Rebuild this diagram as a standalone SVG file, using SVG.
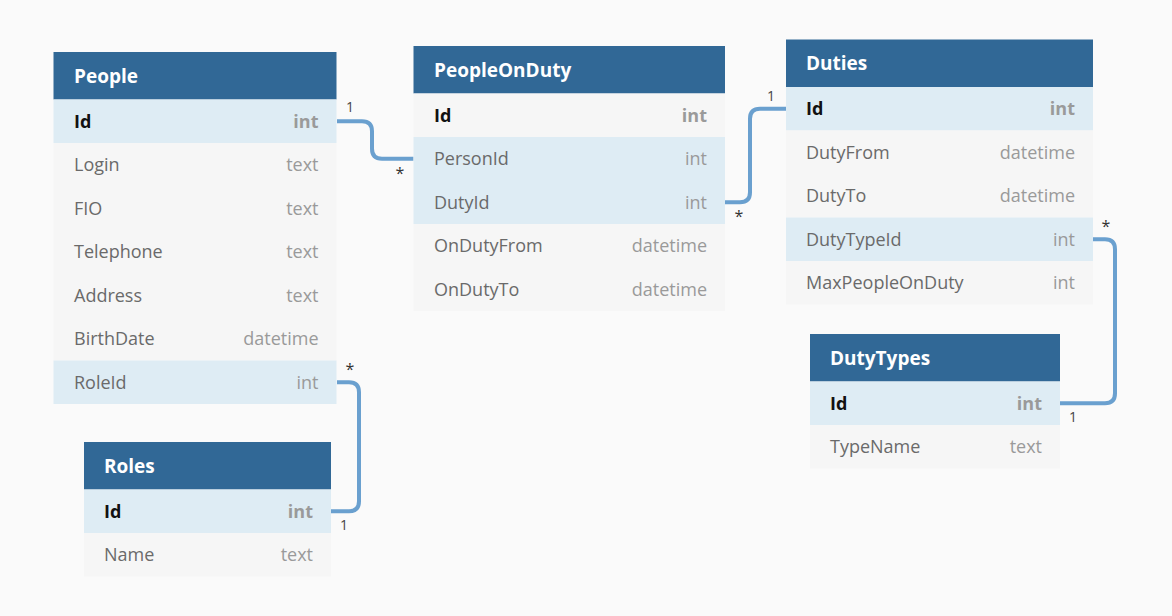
<svg xmlns="http://www.w3.org/2000/svg" width="1172" height="616" viewBox="0 0 1172 616">
<style>
.bg{fill:#fafafa}
.hd{fill:#316896}
.rw{fill:#f6f6f6}
.hl{fill:#deecf4}
.ht{font-family:"Open Sans","Noto Sans",sans-serif;font-size:19px;font-weight:700;fill:#ffffff}
.fn{font-family:"Open Sans","Noto Sans",sans-serif;font-size:18px;fill:#6a6a6a}
.ft{font-family:"Open Sans","Noto Sans",sans-serif;font-size:18px;fill:#9a9a9a;text-anchor:end}
.pk{font-weight:700;fill:#111111}
.pt{font-weight:700}
.cn{fill:none;stroke:#6aa0cf;stroke-width:4;stroke-linecap:butt}
.lb{font-family:"Open Sans","Noto Sans",sans-serif;font-size:14px;fill:#444444;text-anchor:middle}
.st{font-family:"Open Sans","Noto Sans",sans-serif;font-size:16px;fill:#333333;text-anchor:middle}
</style>
<rect class="bg" x="0" y="0" width="1172" height="616"/>
<g id="connectors">
<path class="cn" d="M337 121.25 H362 Q372 121.25 372 131.25 V148.75 Q372 158.75 382 158.75 H413.5"/>
<path class="cn" d="M725 202.25 H740 Q750 202.25 750 192.25 V118.75 Q750 108.75 760 108.75 H786"/>
<path class="cn" d="M1093 239.25 H1105 Q1115 239.25 1115 249.25 V393.25 Q1115 403.25 1105 403.25 H1060"/>
<path class="cn" d="M337 382.25 H349 Q359 382.25 359 392.25 V501.25 Q359 511.25 349 511.25 H331"/>
<text class="lb" x="350" y="112">1</text>
<text class="st" x="400" y="179">*</text>
<text class="lb" x="771" y="101">1</text>
<text class="st" x="739" y="222">*</text>
<text class="st" x="1106" y="232">*</text>
<text class="lb" x="1073" y="422">1</text>
<text class="st" x="350" y="375">*</text>
<text class="lb" x="344" y="530">1</text>
</g>
<g id="People">
<rect class="hd" x="53.5" y="52" width="283" height="47.5"/>
<text class="ht" x="74" y="82.5">People</text>
<rect class="hl" x="53.5" y="99.5" width="283" height="43.5"/>
<rect class="rw" x="53.5" y="143" width="283" height="217.5"/>
<rect class="hl" x="53.5" y="360.5" width="283" height="43.5"/>
<text class="fn pk" x="74" y="127.5">Id</text><text class="ft pt" x="318.5" y="127.5">int</text>
<text class="fn" x="74" y="171">Login</text><text class="ft" x="318.5" y="171">text</text>
<text class="fn" x="74" y="214.5">FIO</text><text class="ft" x="318.5" y="214.5">text</text>
<text class="fn" x="74" y="258">Telephone</text><text class="ft" x="318.5" y="258">text</text>
<text class="fn" x="74" y="301.5">Address</text><text class="ft" x="318.5" y="301.5">text</text>
<text class="fn" x="74" y="345">BirthDate</text><text class="ft" x="318.5" y="345">datetime</text>
<text class="fn" x="74" y="388.5">RoleId</text><text class="ft" x="318.5" y="388.5">int</text>
</g>
<g id="PeopleOnDuty">
<rect class="hd" x="413.5" y="46" width="311.5" height="47.5"/>
<text class="ht" x="434" y="76.5">PeopleOnDuty</text>
<rect class="rw" x="413.5" y="93.5" width="311.5" height="43.5"/>
<rect class="hl" x="413.5" y="137" width="311.5" height="87"/>
<rect class="rw" x="413.5" y="224" width="311.5" height="87"/>
<text class="fn pk" x="434" y="121.5">Id</text><text class="ft pt" x="707" y="121.5">int</text>
<text class="fn" x="434" y="165">PersonId</text><text class="ft" x="707" y="165">int</text>
<text class="fn" x="434" y="208.5">DutyId</text><text class="ft" x="707" y="208.5">int</text>
<text class="fn" x="434" y="252">OnDutyFrom</text><text class="ft" x="707" y="252">datetime</text>
<text class="fn" x="434" y="295.5">OnDutyTo</text><text class="ft" x="707" y="295.5">datetime</text>
</g>
<g id="Duties">
<rect class="hd" x="786" y="39.5" width="307" height="47.5"/>
<text class="ht" x="806" y="70">Duties</text>
<rect class="hl" x="786" y="87" width="307" height="43.5"/>
<rect class="rw" x="786" y="130.5" width="307" height="87"/>
<rect class="hl" x="786" y="217.5" width="307" height="43.5"/>
<rect class="rw" x="786" y="261" width="307" height="43.5"/>
<text class="fn pk" x="806" y="115">Id</text><text class="ft pt" x="1075" y="115">int</text>
<text class="fn" x="806" y="158.5">DutyFrom</text><text class="ft" x="1075" y="158.5">datetime</text>
<text class="fn" x="806" y="202">DutyTo</text><text class="ft" x="1075" y="202">datetime</text>
<text class="fn" x="806" y="245.5">DutyTypeId</text><text class="ft" x="1075" y="245.5">int</text>
<text class="fn" x="806" y="289">MaxPeopleOnDuty</text><text class="ft" x="1075" y="289">int</text>
</g>
<g id="DutyTypes">
<rect class="hd" x="810" y="334" width="250" height="47.5"/>
<text class="ht" x="830" y="364.5">DutyTypes</text>
<rect class="hl" x="810" y="381.5" width="250" height="43.5"/>
<rect class="rw" x="810" y="425" width="250" height="43.5"/>
<text class="fn pk" x="830" y="409.5">Id</text><text class="ft pt" x="1042" y="409.5">int</text>
<text class="fn" x="830" y="453">TypeName</text><text class="ft" x="1042" y="453">text</text>
</g>
<g id="Roles">
<rect class="hd" x="84" y="442" width="247" height="47.5"/>
<text class="ht" x="104" y="472.5">Roles</text>
<rect class="hl" x="84" y="489.5" width="247" height="43.5"/>
<rect class="rw" x="84" y="533" width="247" height="43.5"/>
<text class="fn pk" x="104" y="517.5">Id</text><text class="ft pt" x="313" y="517.5">int</text>
<text class="fn" x="104" y="561">Name</text><text class="ft" x="313" y="561">text</text>
</g>
</svg>
